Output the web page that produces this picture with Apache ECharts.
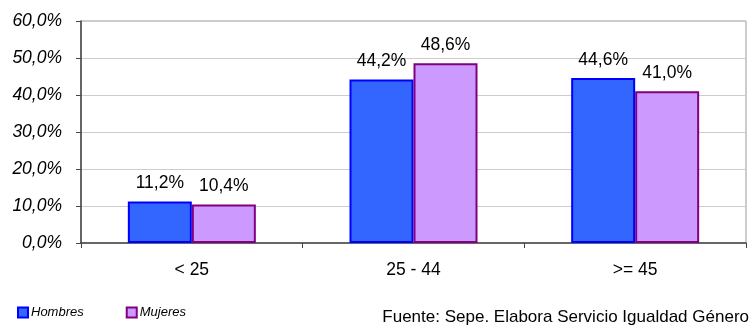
<!DOCTYPE html>
<html><head><meta charset="utf-8">
<script src="https://cdn.jsdelivr.net/npm/echarts@6/dist/echarts.min.js"></script>
<style>html,body{margin:0;padding:0;background:#fff}#c{width:755px;height:329px}</style>
</head><body><div id="c"></div>
<script>
const categories = ['< 25', '25 - 44', '>= 45'];
const hombres = [11.2, 44.2, 44.6];
const mujeres = [10.4, 48.6, 41.0];
const seriesNames = ['Hombres', 'Mujeres'];
const sourceText = 'Fuente: Sepe. Elabora Servicio Igualdad Género';

const fmt = v => v.toFixed(1).replace('.', ',') + '%';
const chart = echarts.init(document.getElementById('c'), null, {renderer: 'canvas'});
const lbl = {show: true, position: 'top', distance: 9, color: '#000', fontFamily: 'Liberation Sans', fontSize: 17.5,
  formatter: p => fmt(p.value)};
chart.setOption({
  animation: false,
  backgroundColor: '#fff',
  grid: {left: 81, right: 9, top: 21, bottom: 86, show: true, borderColor: '#999', borderWidth: 1},
  legend: {
    left: 12, top: 301, itemWidth: 10, itemHeight: 10, itemGap: 42,
    icon: 'rect',
    textStyle: {fontFamily: 'Liberation Sans', fontStyle: 'italic', fontSize: 13, color: '#000', padding: [0, 0, 0, -2]},
    data: seriesNames
  },
  graphic: [{
    type: 'text', right: 6, top: 309,
    style: {text: sourceText, font: '17px "Liberation Sans"', fill: '#000'}
  }],
  xAxis: {
    type: 'category', data: categories,
    axisLine: {lineStyle: {color: '#444', width: 1.5}},
    axisTick: {show: true, length: 5, lineStyle: {color: '#444'}},
    axisLabel: {color: '#000', fontFamily: 'Liberation Sans', fontSize: 17.5, margin: 18}
  },
  yAxis: {
    type: 'value', min: 0, max: 60, interval: 10,
    axisLine: {show: true, lineStyle: {color: '#444', width: 1.5}},
    axisTick: {show: true, length: 5, lineStyle: {color: '#444'}},
    splitLine: {lineStyle: {color: '#ccc'}},
    axisLabel: {color: '#000', fontFamily: 'Liberation Sans', fontStyle: 'italic', fontSize: 17.5, margin: 19,
      formatter: v => v.toFixed(1).replace('.', ',') + '%'}
  },
  series: [
    {name: seriesNames[0], type: 'bar', data: hombres, barWidth: 64, barGap: '0%',
     itemStyle: {color: '#3366FF', borderColor: '#0000FF', borderWidth: 2}, label: lbl},
    {name: seriesNames[1], type: 'bar', data: mujeres, barWidth: 64, barGap: '0%',
     itemStyle: {color: '#CC99FF', borderColor: '#800080', borderWidth: 2}, label: lbl}
  ]
});
</script></body></html>
